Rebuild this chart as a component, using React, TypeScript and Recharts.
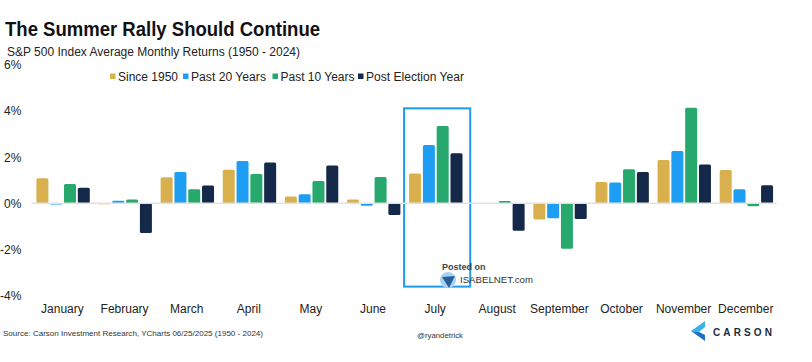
import React from 'react';
import { BarChart, Bar, XAxis, YAxis, ReferenceLine, ReferenceArea } from 'recharts';

const months = ['January', 'February', 'March', 'April', 'May', 'June', 'July', 'August', 'September', 'October', 'November', 'December'];
const since1950 = [1.09, -0.04, 1.13, 1.46, 0.3, 0.17, 1.3, -0.03, -0.7, 0.93, 1.88, 1.45];
const past20 = [-0.05, 0.11, 1.36, 1.84, 0.39, -0.1, 2.53, -0.02, -0.65, 0.91, 2.27, 0.61];
const past10 = [0.84, 0.17, 0.61, 1.27, 0.97, 1.14, 3.36, 0.1, -1.97, 1.48, 4.15, -0.13];
const postElection = [0.68, -1.28, 0.77, 1.77, 1.64, -0.51, 2.17, -1.19, -0.68, 1.36, 1.68, 0.78];
const yTicks = [-4, -2, 0, 2, 4, 6];

const series = [
  { key: 'since1950', name: 'Since 1950', color: '#d8b14e' },
  { key: 'past20', name: 'Past 20 Years', color: '#1e9ef2' },
  { key: 'past10', name: 'Past 10 Years', color: '#27a86d' },
  { key: 'postElection', name: 'Post Election Year', color: '#14294a' },
];

const data = months.map((m, i) => ({
  month: m,
  since1950: since1950[i],
  past20: past20[i],
  past10: past10[i],
  postElection: postElection[i],
}));

const font = '"Liberation Sans", Arial, sans-serif';

// legend slots
const legendX = [110, 183, 272.5, 358];
const legendW = [60, 75, 74, 98];

const BoxShape = (props: any) => {
  const { x, y, width, height } = props;
  return <rect x={x} y={y} width={width + 4} height={height} fill="none" stroke="#1e9af0" strokeWidth={2} />;
};

export default function App() {
  return (
    <div style={{ position: 'absolute', left: 0, top: 0, width: 812, height: 362, background: '#fff', fontFamily: font }}>
      <BarChart
        width={812}
        height={362}
        data={data}
        margin={{ top: 65, right: 35.2, bottom: 36.4, left: 0 }}
        barCategoryGap={5}
        barGap={1.8}
      >
        <XAxis
          dataKey="month"
          axisLine={false}
          tickLine={false}
          interval={0}
          height={30}
          tickMargin={3}
          tick={{ fontSize: 12, fill: '#222', fontFamily: font }}
        />
        <YAxis
          width={31.4}
          domain={[-4, 6]}
          ticks={yTicks}
          axisLine={false}
          tickLine={false}
          tickMargin={4}
          tickFormatter={(v: number) => `${v}%`}
          tick={{ fontSize: 12, fill: '#222', fontFamily: font }}
        />
        <ReferenceLine y={0} stroke="#e2e2e2" strokeWidth={1.5} />
        {series.map((s) => (
          <Bar key={s.key} dataKey={s.key} name={s.name} fill={s.color} radius={1.5} isAnimationActive={false} />
        ))}
        <ReferenceArea x1="July" x2="July" y1={4.12} y2={-3.61} shape={BoxShape} ifOverflow="visible" />
      </BarChart>

      <svg width={812} height={362} style={{ position: 'absolute', left: 0, top: 0, pointerEvents: 'none' }} fontFamily={font}>
        <text x={5} y={36} fontSize={20} fontWeight="bold" fill="#111" textLength={315} lengthAdjust="spacingAndGlyphs">
          The Summer Rally Should Continue
        </text>
        <text x={7} y={56} fontSize={12.5} fill="#222" textLength={293} lengthAdjust="spacingAndGlyphs">
          S&amp;P 500 Index Average Monthly Returns (1950 - 2024)
        </text>

        {series.map((s, i) => (
          <g key={s.key}>
            <rect x={legendX[i]} y={73.5} width={5.5} height={5.5} fill={s.color} />
            <text x={legendX[i] + 8} y={81} fontSize={12} fill="#222" textLength={legendW[i]} lengthAdjust="spacingAndGlyphs">
              {s.name}
            </text>
          </g>
        ))}

        <text x={442} y={270} fontSize={9} fontWeight={600} fill="#444">Posted on</text>
        <circle cx={448} cy={280} r={8} fill="#a9d4f0" />
        <path d="M442 277 L455 276 L449 288 Z" fill="#2a5f9e" />
        <text x={460} y={283} fontSize={9.5} fill="#333" textLength={73} lengthAdjust="spacingAndGlyphs">ISABELNET.com</text>

        <text x={3} y={336} fontSize={8} fill="#333" textLength={260} lengthAdjust="spacingAndGlyphs">
          Source: Carson Investment Research, YCharts 06/25/2025 (1950 - 2024)
        </text>
        <text x={417} y={338} fontSize={8} fill="#333" textLength={46} lengthAdjust="spacingAndGlyphs">@ryandetrick</text>

        <path d="M705 321 L691 331 L699 332 L705 327 Z" fill="#3db2ea" />
        <path d="M691 331 L705 341 L705 335 L699 332 Z" fill="#1b6fc4" />
        <text x={713} y={335.5} fontSize={10} fontWeight="bold" fill="#1c2b3c" textLength={59} lengthAdjust="spacing">CARSON</text>
      </svg>
    </div>
  );
}
